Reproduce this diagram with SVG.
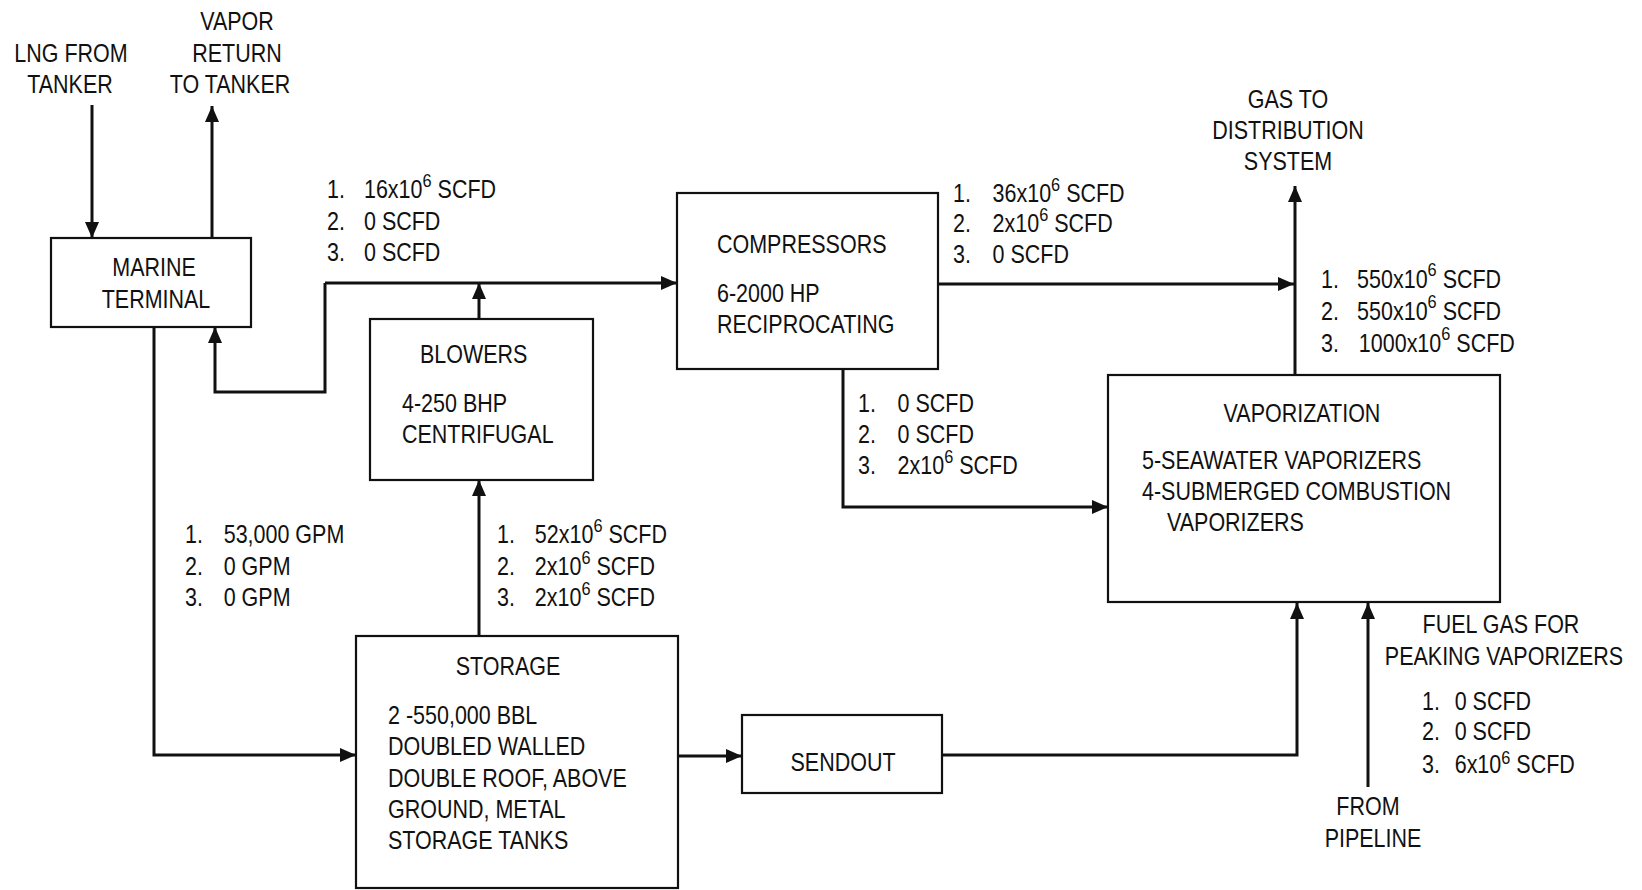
<svg xmlns="http://www.w3.org/2000/svg" width="1642" height="890" viewBox="0 0 1642 890">
<style>
.box{fill:#fff;stroke:#111;stroke-width:2.2}
.ln{fill:none;stroke:#111;stroke-width:3;marker-end:url(#ah)}
.t{font-family:"Liberation Sans",Arial,sans-serif;font-size:25px;fill:#111}
.c{text-anchor:middle}
.s{font-size:19px}
</style>
<defs>
<marker id="ah" markerUnits="userSpaceOnUse" markerWidth="16" markerHeight="14" refX="16" refY="7" orient="auto">
<path d="M0,0 L16,7 L0,14 z" fill="#111"/>
</marker>
</defs>
<rect width="1642" height="890" fill="#fff"/>

<g id="connectors">
<path class="ln" d="M92,105 V238"/>
<path class="ln" d="M212,238 V106"/>
<path class="ln" d="M154,327 V755 H356"/>
<path class="ln" d="M479,636 V480"/>
<path class="ln" d="M479,319 V283"/>
<path class="ln" d="M325,283 H677"/>
<path class="ln" d="M325,283 V392 H215 V327"/>
<path class="ln" d="M938,284 H1294"/>
<path class="ln" d="M843,369 V507 H1108"/>
<path class="ln" d="M1295,375 V186"/>
<path class="ln" d="M678,756 H742"/>
<path class="ln" d="M942,755 H1297 V603"/>
<path class="ln" d="M1368,787 V603"/>
</g>

<g id="lng-from-tanker">
<text class="t c" transform="translate(71 62) scale(.86 1)">LNG FROM</text>
<text class="t c" transform="translate(70 93) scale(.86 1)">TANKER</text>
</g>
<g id="vapor-return">
<text class="t c" transform="translate(237 30) scale(.86 1)">VAPOR</text>
<text class="t c" transform="translate(237 62) scale(.86 1)">RETURN</text>
<text class="t c" transform="translate(230 93) scale(.86 1)">TO TANKER</text>
</g>

<g id="marine-terminal">
<rect class="box" x="51" y="238" width="200" height="89"/>
<text class="t c" transform="translate(154 276) scale(.86 1)">MARINE</text>
<text class="t c" transform="translate(156 308) scale(.86 1)">TERMINAL</text>
</g>

<g id="blowers">
<rect class="box" x="370" y="319" width="223" height="161"/>
<text class="t" transform="translate(420 363) scale(.86 1)">BLOWERS</text>
<text class="t" transform="translate(402 412) scale(.86 1)">4-250 BHP</text>
<text class="t" transform="translate(402 443) scale(.86 1)">CENTRIFUGAL</text>
</g>

<g id="compressors">
<rect class="box" x="677" y="193" width="261" height="176"/>
<text class="t" transform="translate(717 253) scale(.86 1)">COMPRESSORS</text>
<text class="t" transform="translate(717 302) scale(.86 1)">6-2000 HP</text>
<text class="t" transform="translate(717 333) scale(.86 1)">RECIPROCATING</text>
</g>

<g id="storage">
<rect class="box" x="356" y="636" width="322" height="252"/>
<text class="t c" transform="translate(508 675) scale(.86 1)">STORAGE</text>
<text class="t" transform="translate(388 724) scale(.86 1)">2 -550,000 BBL</text>
<text class="t" transform="translate(388 755) scale(.86 1)">DOUBLED WALLED</text>
<text class="t" transform="translate(388 787) scale(.86 1)">DOUBLE ROOF, ABOVE</text>
<text class="t" transform="translate(388 818) scale(.86 1)">GROUND, METAL</text>
<text class="t" transform="translate(388 849) scale(.86 1)">STORAGE TANKS</text>
</g>

<g id="sendout">
<rect class="box" x="742" y="715" width="200" height="78"/>
<text class="t c" transform="translate(843 771) scale(.86 1)">SENDOUT</text>
</g>

<g id="vaporization">
<rect class="box" x="1108" y="375" width="392" height="227"/>
<text class="t c" transform="translate(1302 422) scale(.86 1)">VAPORIZATION</text>
<text class="t" transform="translate(1142 469) scale(.86 1)">5-SEAWATER VAPORIZERS</text>
<text class="t" transform="translate(1142 500) scale(.86 1)">4-SUBMERGED COMBUSTION</text>
<text class="t" transform="translate(1167 531) scale(.86 1)">VAPORIZERS</text>
</g>

<g id="gas-to-distribution">
<text class="t c" transform="translate(1288 108) scale(.86 1)">GAS TO</text>
<text class="t c" transform="translate(1288 139) scale(.86 1)">DISTRIBUTION</text>
<text class="t c" transform="translate(1288 170) scale(.86 1)">SYSTEM</text>
</g>

<g id="fuel-gas">
<text class="t c" transform="translate(1501 633) scale(.86 1)">FUEL GAS FOR</text>
<text class="t c" transform="translate(1504 665) scale(.86 1)">PEAKING VAPORIZERS</text>
</g>

<g id="from-pipeline">
<text class="t c" transform="translate(1368 815) scale(.86 1)">FROM</text>
<text class="t c" transform="translate(1373 847) scale(.86 1)">PIPELINE</text>
</g>

<g id="flow-labels">
<text class="t" transform="translate(327 198) scale(.86 1)">1.<tspan x="43">16x10</tspan><tspan class="s" dy="-11">6</tspan><tspan dy="11"> SCFD</tspan></text>
<text class="t" transform="translate(327 230) scale(.86 1)">2.<tspan x="43">0 SCFD</tspan></text>
<text class="t" transform="translate(327 261) scale(.86 1)">3.<tspan x="43">0 SCFD</tspan></text>

<text class="t" transform="translate(953 202) scale(.86 1)">1.<tspan x="46">36x10</tspan><tspan class="s" dy="-11">6</tspan><tspan dy="11"> SCFD</tspan></text>
<text class="t" transform="translate(953 232) scale(.86 1)">2.<tspan x="46">2x10</tspan><tspan class="s" dy="-11">6</tspan><tspan dy="11"> SCFD</tspan></text>
<text class="t" transform="translate(953 263) scale(.86 1)">3.<tspan x="46">0 SCFD</tspan></text>

<text class="t" transform="translate(858 412) scale(.86 1)">1.<tspan x="46">0 SCFD</tspan></text>
<text class="t" transform="translate(858 443) scale(.86 1)">2.<tspan x="46">0 SCFD</tspan></text>
<text class="t" transform="translate(858 474) scale(.86 1)">3.<tspan x="46">2x10</tspan><tspan class="s" dy="-11">6</tspan><tspan dy="11"> SCFD</tspan></text>

<text class="t" transform="translate(1321 288) scale(.86 1)">1.<tspan x="42">550x10</tspan><tspan class="s" dy="-12">6</tspan><tspan dy="12"> SCFD</tspan></text>
<text class="t" transform="translate(1321 320) scale(.86 1)">2.<tspan x="42">550x10</tspan><tspan class="s" dy="-12">6</tspan><tspan dy="12"> SCFD</tspan></text>
<text class="t" transform="translate(1321 352) scale(.86 1)">3.<tspan x="44">1000x10</tspan><tspan class="s" dy="-12">6</tspan><tspan dy="12"> SCFD</tspan></text>

<text class="t" transform="translate(185 543) scale(.86 1)">1.<tspan x="45">53,000 GPM</tspan></text>
<text class="t" transform="translate(185 575) scale(.86 1)">2.<tspan x="45">0 GPM</tspan></text>
<text class="t" transform="translate(185 606) scale(.86 1)">3.<tspan x="45">0 GPM</tspan></text>

<text class="t" transform="translate(497 543) scale(.86 1)">1.<tspan x="44">52x10</tspan><tspan class="s" dy="-11">6</tspan><tspan dy="11"> SCFD</tspan></text>
<text class="t" transform="translate(497 575) scale(.86 1)">2.<tspan x="44">2x10</tspan><tspan class="s" dy="-11">6</tspan><tspan dy="11"> SCFD</tspan></text>
<text class="t" transform="translate(497 606) scale(.86 1)">3.<tspan x="44">2x10</tspan><tspan class="s" dy="-11">6</tspan><tspan dy="11"> SCFD</tspan></text>

<text class="t" transform="translate(1422 710) scale(.86 1)">1.<tspan x="38">0 SCFD</tspan></text>
<text class="t" transform="translate(1422 740) scale(.86 1)">2.<tspan x="38">0 SCFD</tspan></text>
<text class="t" transform="translate(1422 773) scale(.86 1)">3.<tspan x="38">6x10</tspan><tspan class="s" dy="-9">6</tspan><tspan dy="9"> SCFD</tspan></text>
</g>
</svg>
